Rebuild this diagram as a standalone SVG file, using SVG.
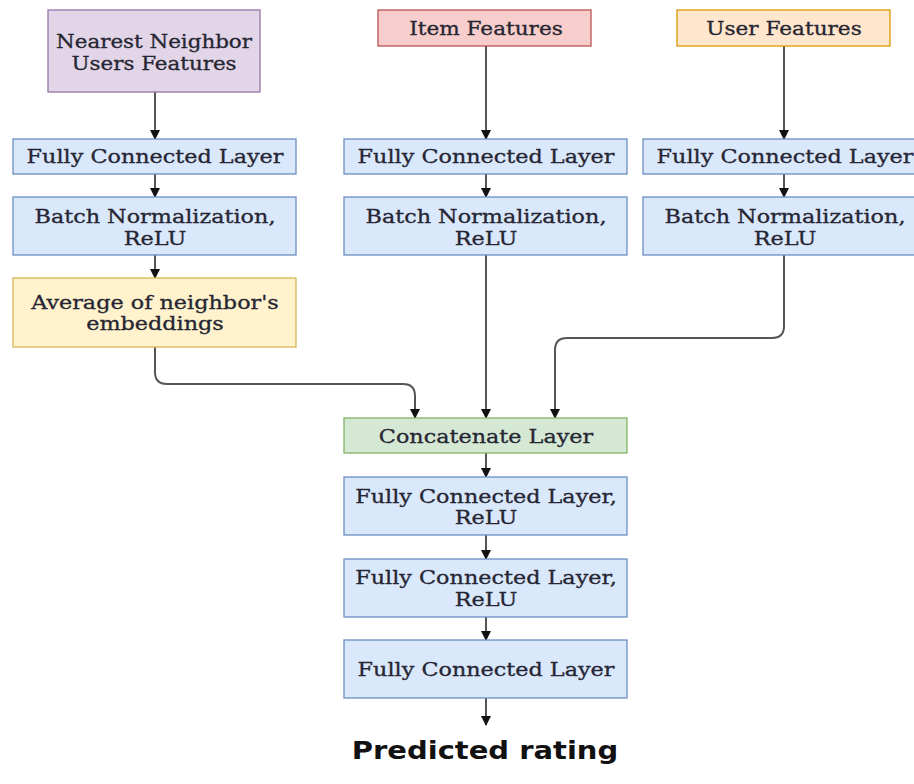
<svg xmlns="http://www.w3.org/2000/svg" width="914" height="784" viewBox="0 0 914 784">
  <style>
    .box { stroke-width: 1.3; }
    .blue { fill: #dae8fc; stroke: #6c8ebf; }
    .purple { fill: #e1d5e7; stroke: #9673a6; }
    .red { fill: #f8cecc; stroke: #b85450; }
    .orange { fill: #ffe6cc; stroke: #d79b00; }
    .yellow { fill: #fff2cc; stroke: #d6b656; }
    .green { fill: #d5e8d4; stroke: #82b366; }
    .lbl { font-family: "DejaVu Serif", "Liberation Serif", serif; font-size: 18px; fill: #262633; stroke: #262633; stroke-width: 0.3; text-anchor: middle; }
    .edge { fill: none; stroke: #555; stroke-width: 2; marker-end: url(#arrow); }
    .out { font-family: "DejaVu Sans", "Noto Sans", sans-serif; font-weight: bold; font-size: 25px; fill: #111; text-anchor: middle; }
  </style>
  <defs>
    <marker id="arrow" viewBox="0 0 10 10" refX="9" refY="5" markerWidth="5" markerHeight="5" markerUnits="strokeWidth" orient="auto">
      <path d="M0,0 L10,5 L0,10 z" fill="#111"/>
    </marker>
  </defs>
  <rect width="914" height="784" fill="#ffffff"/>

  <!-- connectors -->
  <g id="connectors">
    <path class="edge" d="M155,92 V139"/>
    <path class="edge" d="M155,174 V197"/>
    <path class="edge" d="M155,255 V278"/>
    <path class="edge" d="M486,46 V139"/>
    <path class="edge" d="M486,174 V197"/>
    <path class="edge" d="M486,255 V418"/>
    <path class="edge" d="M784,46 V139"/>
    <path class="edge" d="M784,174 V197"/>
    <path class="edge" d="M155,347 V372 Q155,384 167,384 H403 Q415,384 415,396 V418"/>
    <path class="edge" d="M784,255 V326 Q784,338 772,338 H567 Q555,338 555,350 V418"/>
    <path class="edge" d="M486,453 V477"/>
    <path class="edge" d="M486,535 V559"/>
    <path class="edge" d="M486,617 V640"/>
    <path class="edge" d="M486,698 V725"/>
  </g>

  <!-- left column: neighbours -->
  <g id="neighbor-features">
    <rect class="box purple" x="48" y="10" width="212" height="82"/>
    <text class="lbl" transform="translate(154 0) scale(1.19 1)" y="48">Nearest Neighbor</text>
    <text class="lbl" transform="translate(154 0) scale(1.19 1)" y="70">Users Features</text>
  </g>
  <g id="fc-left">
    <rect class="box blue" x="13" y="139" width="283" height="35"/>
    <text class="lbl" transform="translate(155 0) scale(1.24 1)" y="163">Fully Connected Layer</text>
  </g>
  <g id="bn-left">
    <rect class="box blue" x="13" y="197" width="283" height="58"/>
    <text class="lbl" transform="translate(155 0) scale(1.24 1)" y="223">Batch Normalization,</text>
    <text class="lbl" transform="translate(155 0) scale(1.24 1)" y="245">ReLU</text>
  </g>
  <g id="avg-neighbor">
    <rect class="box yellow" x="13" y="278" width="283" height="69"/>
    <text class="lbl" transform="translate(155 0) scale(1.24 1)" y="309">Average of neighbor's</text>
    <text class="lbl" transform="translate(155 0) scale(1.24 1)" y="330">embeddings</text>
  </g>

  <!-- middle column: items -->
  <g id="item-features">
    <rect class="box red" x="378" y="10" width="213" height="36"/>
    <text class="lbl" transform="translate(486 0) scale(1.2 1)" y="35">Item Features</text>
  </g>
  <g id="fc-mid">
    <rect class="box blue" x="344" y="139" width="283" height="35"/>
    <text class="lbl" transform="translate(486 0) scale(1.24 1)" y="163">Fully Connected Layer</text>
  </g>
  <g id="bn-mid">
    <rect class="box blue" x="344" y="197" width="283" height="58"/>
    <text class="lbl" transform="translate(486 0) scale(1.24 1)" y="223">Batch Normalization,</text>
    <text class="lbl" transform="translate(486 0) scale(1.24 1)" y="245">ReLU</text>
  </g>

  <!-- right column: user -->
  <g id="user-features">
    <rect class="box orange" x="677" y="10" width="213" height="36"/>
    <text class="lbl" transform="translate(784 0) scale(1.2 1)" y="35">User Features</text>
  </g>
  <g id="fc-right">
    <rect class="box blue" x="643" y="139" width="283" height="35"/>
    <text class="lbl" transform="translate(785 0) scale(1.24 1)" y="163">Fully Connected Layer</text>
  </g>
  <g id="bn-right">
    <rect class="box blue" x="643" y="197" width="283" height="58"/>
    <text class="lbl" transform="translate(785 0) scale(1.24 1)" y="223">Batch Normalization,</text>
    <text class="lbl" transform="translate(785 0) scale(1.24 1)" y="245">ReLU</text>
  </g>

  <!-- merged head -->
  <g id="concat">
    <rect class="box green" x="344" y="418" width="283" height="35"/>
    <text class="lbl" transform="translate(486 0) scale(1.24 1)" y="443">Concatenate Layer</text>
  </g>
  <g id="fc-relu-1">
    <rect class="box blue" x="344" y="477" width="283" height="58"/>
    <text class="lbl" transform="translate(486 0) scale(1.24 1)" y="503">Fully Connected Layer,</text>
    <text class="lbl" transform="translate(486 0) scale(1.24 1)" y="524">ReLU</text>
  </g>
  <g id="fc-relu-2">
    <rect class="box blue" x="344" y="559" width="283" height="58"/>
    <text class="lbl" transform="translate(486 0) scale(1.24 1)" y="584">Fully Connected Layer,</text>
    <text class="lbl" transform="translate(486 0) scale(1.24 1)" y="606">ReLU</text>
  </g>
  <g id="fc-out">
    <rect class="box blue" x="344" y="640" width="283" height="58"/>
    <text class="lbl" transform="translate(486 0) scale(1.24 1)" y="676">Fully Connected Layer</text>
  </g>

  <g id="prediction">
    <text class="out" transform="translate(485 0) scale(1.16 1)" y="759">Predicted rating</text>
  </g>
</svg>
